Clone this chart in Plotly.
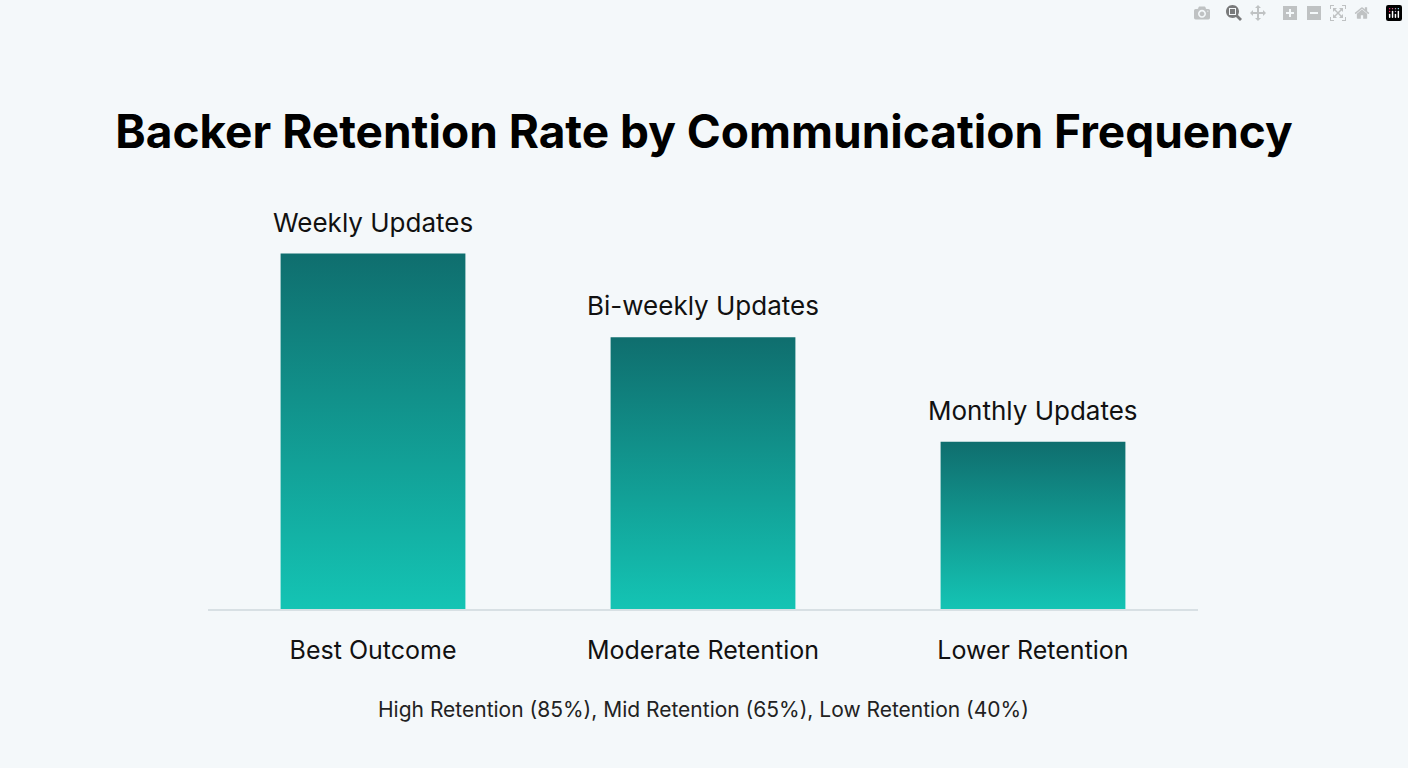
import plotly.graph_objects as go

# data
frequencies = ["Weekly Updates", "Bi-weekly Updates", "Monthly Updates"]
outcomes = ["Best Outcome", "Moderate Retention", "Lower Retention"]
retention = [85, 65, 40]

BG = "#f4f8fa"
HALF = 0.28

fig = go.Figure()

for i, (v, name) in enumerate(zip(retention, frequencies)):
    fig.add_trace(go.Scatter(
        x=[i - HALF, i + HALF, i + HALF, i - HALF, i - HALF],
        y=[0, 0, v, v, 0],
        mode="lines",
        line=dict(width=0),
        fill="toself",
        fillgradient=dict(
            type="vertical",
            colorscale=[[0, "#14c4b4"], [1, "#0f6e6e"]],
        ),
        hoverinfo="skip",
        showlegend=False,
    ))
    fig.add_annotation(
        x=i, y=v, text=name, showarrow=False,
        yanchor="bottom", yshift=14,
        font=dict(size=26, color="#111111"),
    )

fig.add_annotation(
    xref="paper", yref="paper", x=0.5, y=-0.262,
    text="High Retention (85%), Mid Retention (65%), Low Retention (40%)",
    showarrow=False, font=dict(size=21, color="#222222"),
)

fig.update_layout(
    width=1408, height=768,
    paper_bgcolor=BG, plot_bgcolor=BG,
    font=dict(family="Inter, Roboto, sans-serif"),
    title=dict(
        text="<b>Backer Retention Rate by Communication Frequency</b>",
        x=0.5, xanchor="center", y=0.828, yanchor="middle",
        font=dict(size=46, color="#000000"),
    ),
    margin=dict(l=208, r=210, t=170, b=159),
    xaxis=dict(
        range=[-0.5, 2.5],
        tickvals=[0, 1, 2], ticktext=outcomes,
        tickfont=dict(size=25, color="#111111"),
        showgrid=False, zeroline=False,
        showline=True, linecolor="#d8e0e4", linewidth=1.5,
        ticks="outside", ticklen=18, tickcolor=BG,
    ),
    yaxis=dict(range=[0, 105], visible=False),
)

fig.write_html("out.html", post_script="document.body.style.margin='0';")
